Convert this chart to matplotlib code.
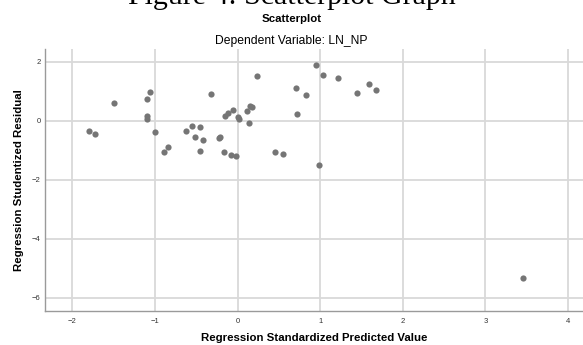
import matplotlib
matplotlib.use("Agg")
from matplotlib import pyplot as plt
import numpy as np

# predicted (standardized) and residual (studentized) values
pred = [-1.80, -1.73, -1.50, -1.06, -1.10, -1.09, -1.10, -1.00, -0.89, -0.84,
        -0.62, -0.55, -0.52, -0.45, -0.42, -0.46, -0.32, -0.23, -0.21, -0.17,
        -0.15, -0.12, -0.08, -0.05, -0.02, 0.01, 0.02, 0.12, 0.15, 0.17,
        0.14, 0.24, 0.45, 0.55, 0.71, 0.72, 0.83, 0.95, 1.03, 1.22,
        1.45, 1.59, 1.68, 0.99, 3.46]
resid = [-0.35, -0.43, 0.61, 0.99, 0.75, 0.18, 0.06, -0.37, -1.04, -0.87,
         -0.35, -0.16, -0.54, -0.21, -0.64, -1.02, 0.93, -0.58, -0.54, -1.04,
         0.16, 0.27, -1.14, 0.38, -1.20, 0.14, 0.06, 0.33, 0.50, 0.46,
         -0.07, 1.53, -1.04, -1.11, 1.10, 0.23, 0.89, 1.89, 1.57, 1.44,
         0.94, 1.24, 1.06, -1.48, -5.33]

xticks = [-2, -1, 0, 1, 2, 3, 4]
yticks = [-6, -4, -2, 0, 2]

plt.rcParams['font.family'] = ['Liberation Sans', 'DejaVu Sans']

fig = plt.figure(figsize=(5.83, 3.45), dpi=100)
ax = fig.add_axes([45/583, 1 - 311/345, (583 - 45)/583, (311 - 49)/345])

ax.scatter(pred, resid, s=20, color='#757575', zorder=3, linewidths=0)

ax.set_xlim(-2.33, 4.18)
ax.set_ylim(-6.45, 2.44)
ax.set_xticks(xticks)
ax.set_yticks(yticks)
ax.tick_params(length=0, labelsize=5.5, colors='#333333')
ax.tick_params(axis='x', pad=5)
ax.tick_params(axis='y', pad=3)
ax.grid(True, color='#d9d9d9', linewidth=1.3, zorder=0)

for s in ['top', 'right']:
    ax.spines[s].set_visible(False)
for s in ['left', 'bottom']:
    ax.spines[s].set_color('#9a9a9a')
    ax.spines[s].set_linewidth(1.0)

ax.set_xlabel('Regression Standardized Predicted Value', fontsize=8.2,
              fontweight='bold', labelpad=6)
ax.set_ylabel('Regression Studentized Residual', fontsize=8.2,
              fontweight='bold', labelpad=6)

fig.text(0.5, 1 - 19/345, 'Scatterplot', ha='center', va='center',
         fontsize=8.2, fontweight='bold')
fig.text(0.5, 1 - 41/345, 'Dependent Variable: LN_NP', ha='center',
         va='center', fontsize=8.7)
fig.text(0.5, 1 - 4/345, 'Figure 4: Scatterplot Graph', ha='center',
         va='baseline', fontsize=21.5, family='Liberation Serif')

fig.savefig('out.png', dpi=100)
